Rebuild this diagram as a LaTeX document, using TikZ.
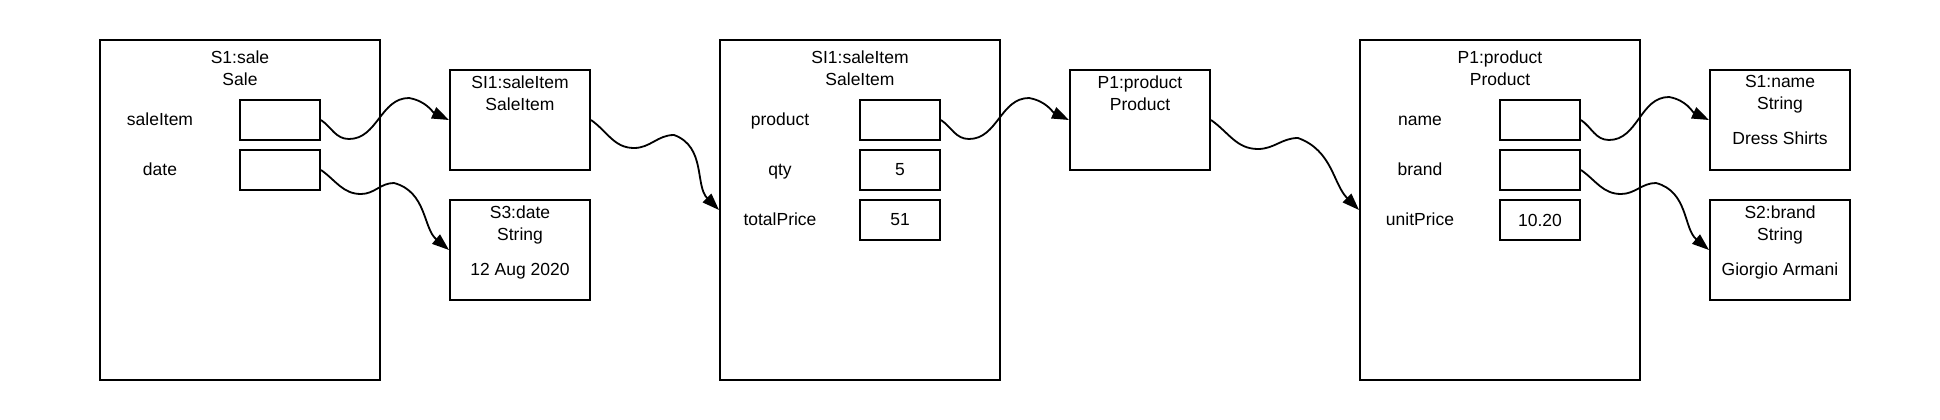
\documentclass[tikz,border=0pt]{standalone}
\usepackage{fontspec}
\setmainfont{Liberation Sans}
\usetikzlibrary{arrows.meta, positioning}
\newcommand{\fsz}{\fontsize{17.5}{22}\selectfont}
\tikzset{
  obj/.style={draw, line width=2pt, minimum width=280pt, minimum height=340pt, inner sep=0pt},
  val/.style={draw, line width=2pt, minimum width=140pt, minimum height=100pt, inner sep=0pt},
  slot/.style={draw, line width=2pt, minimum width=80pt, minimum height=40pt, inner sep=0pt, font=\fsz},
  lbl/.style={inner sep=0pt, anchor=base, font=\fsz},
  ttl/.style={inner sep=0pt, anchor=north, align=center, font=\fsz},
  link/.style={line width=1.8pt, -{Triangle[length=17pt, width=12pt]}}
}

\begin{document}
\begin{tikzpicture}[x=1pt, y=1pt]
  \useasboundingbox (0,0) rectangle (1940,-420);
  % S1:sale object
  \node[obj] (sale) at (240,-210) {};
  \node[ttl] (saleT) at (240,-50.5) {S1:sale\\Sale};
  \node[lbl] (saleL1) at (160,-125) {saleItem};
  \node[lbl] (saleL2) at (160,-175) {date};
  \node[slot] (saleF1) at (280,-120) {};
  \node[slot] (saleF2) at (280,-170) {};
  % SI1 reference and date string
  \node[val] (item) at (520,-120) {};
  \node[ttl] (itemT) at (520,-75.5) {SI1:saleItem\\SaleItem};
  \node[val] (date) at (520,-250) {};
  \node[ttl] (dateT) at (520,-205.5) {S3:date\\String\\[13pt]12 Aug 2020};
  % SI1:saleItem object
  \node[obj] (si) at (860,-210) {};
  \node[ttl] (siT) at (860,-50.5) {SI1:saleItem\\SaleItem};
  \node[lbl] (siL1) at (780,-125) {product};
  \node[lbl] (siL2) at (780,-175) {qty};
  \node[lbl] (siL3) at (780,-225) {totalPrice};
  \node[slot] (siF1) at (900,-120) {};
  \node[slot] (siF2) at (900,-170) {5};
  \node[slot] (siF3) at (900,-220) {51};
  % P1 reference
  \node[val] (prod) at (1140,-120) {};
  \node[ttl] (prodT) at (1140,-75.5) {P1:product\\Product};
  % P1:product object
  \node[obj] (p1) at (1500,-210) {};
  \node[ttl] (p1T) at (1500,-50.5) {P1:product\\Product};
  \node[lbl] (p1L1) at (1420,-125) {name};
  \node[lbl] (p1L2) at (1420,-175) {brand};
  \node[lbl] (p1L3) at (1420,-225) {unitPrice};
  \node[slot] (p1F1) at (1540,-120) {};
  \node[slot] (p1F2) at (1540,-170) {};
  \node[slot] (p1F3) at (1540,-220) {10.20};
  % string values
  \node[val] (name) at (1780,-120) {};
  \node[ttl] (nameT) at (1780,-75.5) {S1:name\\String\\[13pt]Dress Shirts};
  \node[val] (brand) at (1780,-250) {};
  \node[ttl] (brandT) at (1780,-205.5) {S2:brand\\String\\[13pt]Giorgio Armani};
  % references between objects
  \draw[link] (saleF1.east) to[out=-35,in=180] ++(28,-19) to[out=0,in=180] ++(60,41) to[out=-10,in=155] (item.west);
  \draw[link] (saleF2.east) to[out=-35,in=180] ++(40,-24) to[out=0,in=180] ++(33,11) to[out=-15,in=140] (date.west);
  \draw[link] (item.east) to[out=-35,in=180] ++(43,-28) to[out=0,in=180] ++(40,13) to[out=-20,in=135] (si.west);
  \draw[link] (siF1.east) to[out=-35,in=180] ++(28,-19) to[out=0,in=180] ++(60,41) to[out=-10,in=155] (prod.west);
  \draw[link] (prod.east) to[out=-35,in=180] ++(47,-29) to[out=0,in=180] ++(40,11) to[out=-20,in=135] (p1.west);
  \draw[link] (p1F1.east) to[out=-35,in=180] ++(28,-20) to[out=0,in=180] ++(60,43) to[out=-10,in=155] (name.west);
  \draw[link] (p1F2.east) to[out=-35,in=180] ++(40,-24) to[out=0,in=180] ++(35,11) to[out=-15,in=140] (brand.west);
\end{tikzpicture}
\end{document}
